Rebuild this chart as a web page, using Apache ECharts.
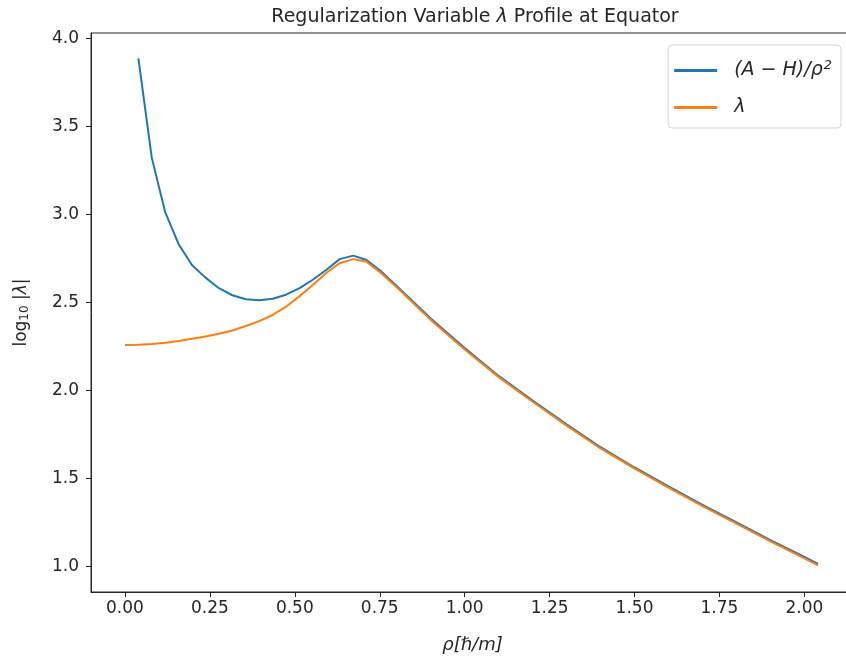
<!DOCTYPE html>
<html>
<head>
<meta charset="utf-8">
<script src="https://cdn.jsdelivr.net/npm/echarts@6/dist/echarts.min.js"></script>
<style>html,body{margin:0;padding:0;background:#fff}#c{width:846px;height:658px}</style>
</head>
<body>
<div id="c"></div>
<script>
const blueX = [0.0395,0.079,0.1186,0.158,0.1976,0.237,0.2766,0.316,0.3557,0.395,0.435,0.474,0.514,0.553,0.593,0.632,0.672,0.711,0.751,0.80,0.90,1.00,1.10,1.20,1.30,1.40,1.50,1.60,1.70,1.80,1.90,2.00,2.04];
const blueY = [3.885,3.32,3.01,2.83,2.71,2.64,2.58,2.54,2.517,2.512,2.52,2.543,2.58,2.628,2.685,2.745,2.765,2.74,2.68,2.593,2.408,2.240,2.082,1.942,1.807,1.677,1.562,1.455,1.350,1.250,1.150,1.054,1.014];
const orangeX = [0,0.0395,0.079,0.1186,0.158,0.1976,0.237,0.2766,0.316,0.3557,0.395,0.435,0.474,0.514,0.553,0.593,0.632,0.672,0.711,0.751,0.80,0.90,1.00,1.10,1.20,1.30,1.40,1.50,1.60,1.70,1.80,1.90,2.00,2.04];
const orangeY = [2.258,2.259,2.263,2.270,2.280,2.293,2.306,2.321,2.34,2.365,2.393,2.428,2.475,2.535,2.598,2.668,2.722,2.745,2.73,2.67,2.585,2.40,2.232,2.075,1.935,1.80,1.67,1.555,1.448,1.343,1.243,1.142,1.046,1.006];
const xTicks = [0,0.25,0.5,0.75,1.0,1.25,1.5,1.75,2.0];
const yTicks = [1.0,1.5,2.0,2.5,3.0,3.5,4.0];

const zip = (xs, ys) => xs.map((x, i) => [x, ys[i]]);
const FONT = 'DejaVu Sans';
const TXT = '#262626';
const chart = echarts.init(document.getElementById('c'), null, {renderer: 'canvas'});
chart.setOption({
  animation: false,
  backgroundColor: '#fff',
  title: {
    text: '{n|Regularization Variable }{i|λ}{n| Profile at Equator}',
    left: 470, top: 3, textAlign: 'center',
    textStyle: {
      rich: {
        n: {fontFamily: FONT, fontSize: 19, color: TXT, fontWeight: 'normal'},
        i: {fontFamily: FONT, fontSize: 19, color: TXT, fontStyle: 'italic', fontWeight: 'normal'}
      }
    }
  },
  grid: {left: 91, width: 763, top: 33, height: 559, containLabel: false, outerBoundsMode: 'none',
         show: true, borderColor: '#262626', borderWidth: 1, backgroundColor: 'transparent'},
  legend: {
    orient: 'vertical', right: 5, top: 45,
    itemWidth: 43, itemHeight: 3, itemGap: 18,
    padding: [14, 9, 11, 6],
    borderColor: '#d6d6d6', borderWidth: 1, borderRadius: 4,
    icon: 'rect',
    data: ['blue', 'orange'],
    formatter: function (n) {
      return n === 'blue' ? '{i|(A − H)/ρ}{s|2}' : '{i|λ}';
    },
    textStyle: {
      padding: [0, 0, 0, 12],
      rich: {
        i: {fontFamily: FONT, fontSize: 19, fontStyle: 'italic', color: TXT, height: 22},
        s: {fontFamily: FONT, fontSize: 13, fontStyle: 'italic', color: TXT, verticalAlign: 'top', padding: [0, 0, 10, 1]}
      }
    }
  },
  xAxis: {
    type: 'value', min: -0.1, max: 2.146,
    splitLine: {show: false},
    axisLine: {show: true, onZero: false, lineStyle: {color: '#262626'}},
    axisTick: {show: true, length: 5, lineStyle: {color: '#262626'}, customValues: xTicks},
    axisLabel: {customValues: xTicks, margin: 8, fontFamily: FONT, fontSize: 17, color: TXT, formatter: v => v.toFixed(2)},
    name: '{i|ρ}{n|[ℏ/m]}', nameLocation: 'middle', nameGap: 44,
    nameTextStyle: {rich: {
      i: {fontFamily: FONT, fontSize: 18, fontStyle: 'italic', color: TXT},
      n: {fontFamily: FONT, fontSize: 18, fontStyle: 'italic', color: TXT}
    }}
  },
  yAxis: {
    type: 'value', min: 0.855, max: 4.029,
    splitLine: {show: false},
    axisLine: {show: true, onZero: false, lineStyle: {color: '#262626'}},
    axisTick: {show: true, length: 5, lineStyle: {color: '#262626'}, customValues: yTicks},
    axisLabel: {customValues: yTicks, margin: 12, fontFamily: FONT, fontSize: 17, color: TXT, formatter: v => v.toFixed(1)},
    name: '{n|log}{s|10}{n| |}{i|λ}{n||}', nameLocation: 'middle', nameGap: 60, nameRotate: 90,
    nameTextStyle: {rich: {
      n: {fontFamily: FONT, fontSize: 17, color: TXT},
      s: {fontFamily: FONT, fontSize: 12, color: TXT, verticalAlign: 'bottom', padding: [7, 0, 0, 0]},
      i: {fontFamily: FONT, fontSize: 17, fontStyle: 'italic', color: TXT}
    }}
  },
  series: [
    {name: 'blue', type: 'line', data: zip(blueX, blueY), showSymbol: false, smooth: false,
     lineStyle: {color: '#1f77b4', width: 2}, itemStyle: {color: '#1f77b4'}},
    {name: 'orange', type: 'line', data: zip(orangeX, orangeY), showSymbol: false, smooth: false,
     lineStyle: {color: '#ff7f0e', width: 2}, itemStyle: {color: '#ff7f0e'}}
  ]
});
</script>
</body>
</html>
